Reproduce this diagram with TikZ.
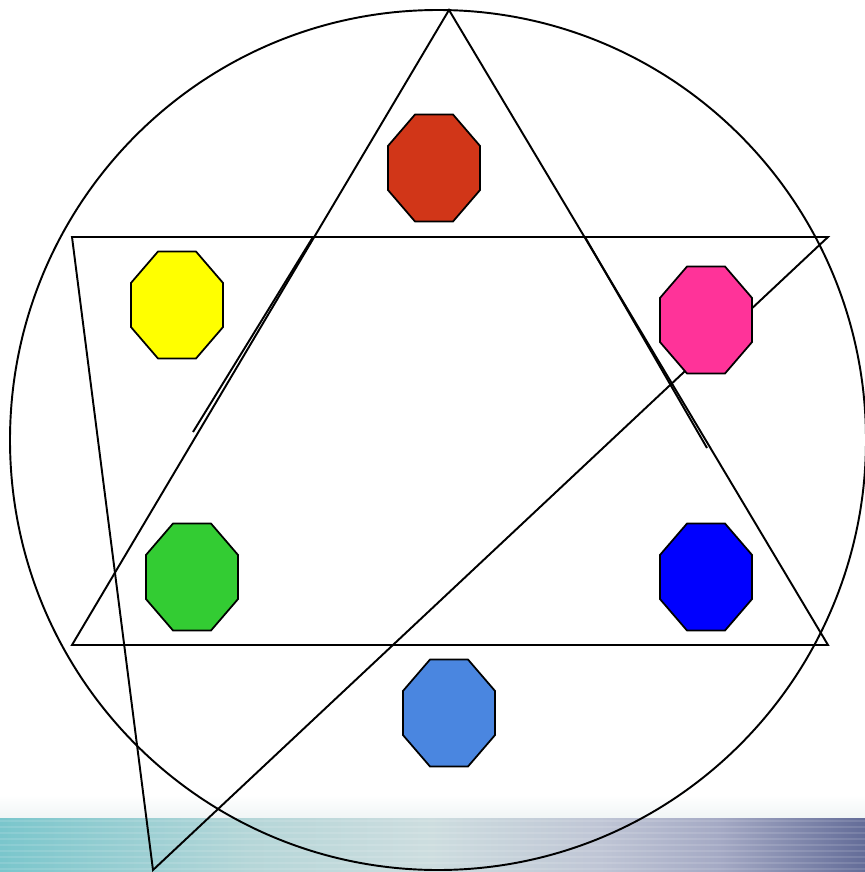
\documentclass[tikz,border=0pt]{standalone}
\usepackage{xcolor}
\usepackage{tikz}
\usetikzlibrary{shapes.geometric}
\definecolor{octred}{HTML}{D13618}
\definecolor{octyellow}{HTML}{FFFF00}
\definecolor{octpink}{HTML}{FF3399}
\definecolor{octgreen}{HTML}{33CC33}
\definecolor{octblue}{HTML}{0000FF}
\definecolor{octsky}{HTML}{4A86E0}
\definecolor{bandA}{HTML}{7AC6CC}
\definecolor{bandB}{HTML}{B5D6D8}
\definecolor{bandC}{HTML}{CDDDDF}
\definecolor{bandD}{HTML}{BFC5D5}
\definecolor{bandE}{HTML}{A4A9C4}
\definecolor{bandF}{HTML}{636C98}
\pgfdeclarehorizontalshading{bandshade}{100bp}{color(0bp)=(bandA); color(25bp)=(bandA);
  color(39.5bp)=(bandB); color(49.9bp)=(bandC); color(59.7bp)=(bandD);
  color(66.6bp)=(bandE); color(75bp)=(bandF); color(100bp)=(bandF)}

\begin{document}
\begin{tikzpicture}[x=0.02cm, y=-0.02cm,
  octa/.style={regular polygon, regular polygon sides=8, minimum size=1.99cm,
    inner sep=0pt, outer sep=0pt, draw=black, line width=1pt,
    yscale=1.163, transform shape},
  edge/.style={line width=1.1pt, black}
]
  \useasboundingbox (0,0) rectangle (865,872);

  \shade[top color=white, bottom color=bandC!30] (0,795) rectangle (865,818);
  \shade[shading=bandshade] (0,818) rectangle (865,872);
  \foreach \y in {821,827,...,869}
    \draw[white, opacity=0.12, line width=1.6pt] (0,\y) -- (865,\y);

  \coordinate (apex)  at (449,10);
  \coordinate (baseL) at (72,645);
  \coordinate (baseR) at (828,645);
  \coordinate (topL)  at (72,237);
  \coordinate (topR)  at (828,237);
  \coordinate (foot)  at (153,870);
  \coordinate (lowA)  at (193,432);
  \coordinate (lowB)  at (313,237);
  \coordinate (rowA)  at (585,237);
  \coordinate (rowB)  at (707,448);
  \coordinate (midA)  at (330,645);
  \coordinate (midB)  at (585,645);

  \draw[edge] (438,440) ellipse [x radius=428, y radius=430];
  \draw[edge] (apex) -- (baseL) -- (baseR) -- cycle;
  \draw[edge] (foot) -- (topL) -- (topR) -- cycle;
  \draw[edge] (lowA) -- (lowB);
  \draw[edge] (rowA) -- (rowB);
  \draw[edge] (midA) -- (midB);

  \node[octa, fill=octred]    (red)    at (434,168) {};
  \node[octa, fill=octyellow] (yellow) at (177,305) {};
  \node[octa, fill=octpink]   (pink)   at (706,320) {};
  \node[octa, fill=octgreen]  (green)  at (192,577) {};
  \node[octa, fill=octblue]   (blue)   at (706,577) {};
  \node[octa, fill=octsky]    (sky)    at (449,713) {};
\end{tikzpicture}
\end{document}
